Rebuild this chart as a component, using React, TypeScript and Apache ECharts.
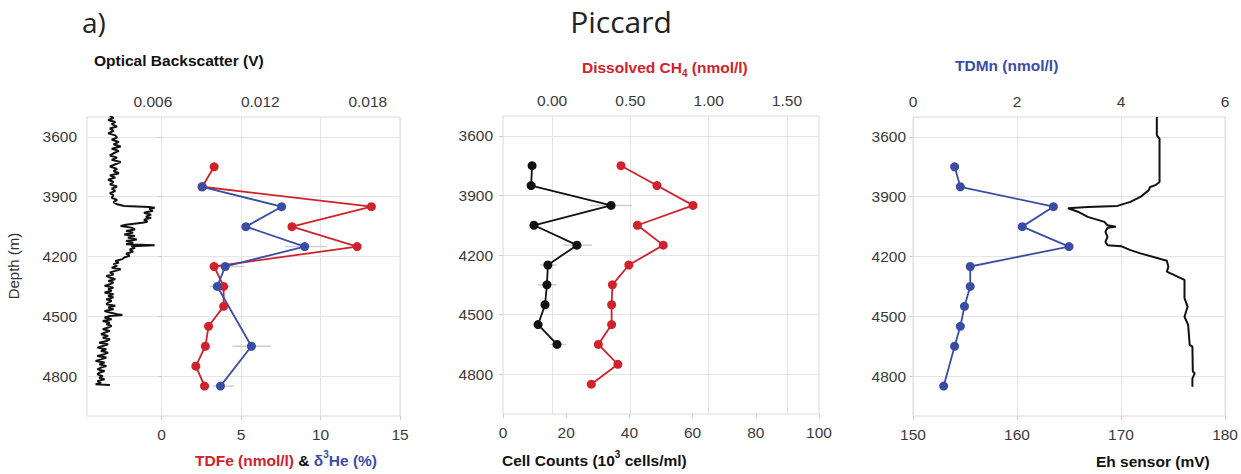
import React, { useEffect, useRef } from "react";
import * as echarts from "echarts";

// ---------- data ----------
const DEPTH_TICKS = [3600, 3900, 4200, 4500, 4800];

// Left panel: TDFe (nmol/l) and δ3He (%) (bottom axis), optical backscatter (V) (top axis)
const TDFE_DEPTH = [3750, 3850, 3950, 4050, 4150, 4250, 4350, 4450, 4550, 4650, 4750, 4850];
const TDFE = [3.3, 2.55, 13.2, 8.2, 12.3, 3.3, 3.9, 3.9, 2.95, 2.75, 2.15, 2.7];
const HE_DEPTH = [3850, 3950, 4050, 4150, 4250, 4350, 4650, 4850];
const HE = [2.55, 7.55, 5.3, 9.0, 4.0, 3.5, 5.65, 3.7];
const HE_ERR_DEPTH = [4150, 4250, 4350, 4650, 4850];
const HE_ERR_LO = [7.75, 3.0, 3.0, 4.45, 3.2];
const HE_ERR_HI = [10.4, 5.2, 4.3, 6.9, 4.55];

const OBS_DEPTH = [
  3495, 3505, 3515, 3525, 3536, 3548, 3558, 3570, 3582, 3592, 3603, 3614, 3625, 3637, 3648, 3659, 3670, 3682,
  3693, 3704, 3715, 3726, 3737, 3748, 3760, 3771, 3782, 3793, 3804, 3815, 3826, 3838, 3849, 3860, 3871, 3882,
  3893, 3905, 3916, 3927, 3938, 3946, 3951, 3955, 3962, 3970, 3980, 3990, 4000, 4005, 4015, 4025, 4031, 4040,
  4047, 4055, 4064, 4072, 4080, 4089, 4097, 4105, 4114, 4122, 4130, 4139, 4143, 4148, 4156, 4165, 4175, 4186,
  4196, 4205, 4213, 4222, 4230, 4238, 4247, 4256, 4264, 4272, 4280, 4290, 4297, 4305, 4314, 4322, 4330, 4339,
  4347, 4356, 4364, 4372, 4380, 4389, 4397, 4405, 4414, 4422, 4431, 4439, 4447, 4456, 4464, 4473, 4481, 4490,
  4493, 4498, 4506, 4515, 4523, 4532, 4540, 4548, 4556, 4565, 4573, 4582, 4590, 4598, 4607, 4615, 4624, 4632,
  4640, 4649, 4657, 4665, 4674, 4682, 4690, 4699, 4707, 4716, 4724, 4732, 4741, 4749, 4757, 4766, 4774, 4783,
  4791, 4800, 4808, 4816, 4825, 4833, 4841, 4845,
];
const OBS = [
  0.0036, 0.0038, 0.0035, 0.0039, 0.0037, 0.004, 0.0036, 0.0038, 0.0035, 0.0039, 0.004, 0.0037, 0.0041, 0.0038,
  0.0042, 0.0037, 0.0041, 0.0038, 0.0036, 0.004, 0.0037, 0.0042, 0.0039, 0.0036, 0.004, 0.0038, 0.0041, 0.0036,
  0.0039, 0.0035, 0.0038, 0.0036, 0.004, 0.0037, 0.0039, 0.0036, 0.0038, 0.0037, 0.004, 0.0038, 0.004, 0.0044,
  0.0058, 0.0061, 0.0058, 0.006, 0.0055, 0.0059, 0.0056, 0.0059, 0.0055, 0.0057, 0.0054, 0.0045, 0.0042, 0.0048,
  0.005, 0.0045, 0.0049, 0.0044, 0.005, 0.0046, 0.0051, 0.0045, 0.0049, 0.0045, 0.0061, 0.0048, 0.005, 0.0047,
  0.0049, 0.0045, 0.0047, 0.0044, 0.0043, 0.0039, 0.0041, 0.0038, 0.004, 0.0037, 0.0042, 0.0039, 0.0036, 0.0038,
  0.0034, 0.0036, 0.0039, 0.0035, 0.0038, 0.0036, 0.0033, 0.0038, 0.0035, 0.0037, 0.0033, 0.0038, 0.0035, 0.0038,
  0.0034, 0.0037, 0.0035, 0.0034, 0.0039, 0.0035, 0.0038, 0.0033, 0.0036, 0.004, 0.0043, 0.0036, 0.0033, 0.0037,
  0.0032, 0.0036, 0.0034, 0.0037, 0.0035, 0.0032, 0.0036, 0.0033, 0.0031, 0.0035, 0.0032, 0.0036, 0.0034, 0.003,
  0.0035, 0.0032, 0.0029, 0.0034, 0.0031, 0.0035, 0.0033, 0.0029, 0.0034, 0.0031, 0.0028, 0.0033, 0.003, 0.0034,
  0.0031, 0.0029, 0.0033, 0.003, 0.0029, 0.0032, 0.003, 0.0033, 0.0029, 0.0031, 0.0028, 0.0036,
];

// Middle panel: cell counts (bottom) and dissolved CH4 (top)
const CELL_DEPTH = [3750, 3850, 3950, 4050, 4150, 4250, 4350, 4450, 4550, 4650];
const CELLS = [9.2, 8.9, 34.2, 9.8, 23.4, 14.2, 13.9, 13.3, 11.1, 17.1];
const CELL_ERR_DEPTH = [3950, 4150, 4250, 4350, 4650];
const CELL_ERR_LO = [27.5, 19, 11.7, 11, 14.9];
const CELL_ERR_HI = [40.8, 28.2, 17, 17, 20];
const CH4_DEPTH = [3750, 3850, 3950, 4050, 4150, 4250, 4350, 4450, 4550, 4650, 4750, 4850];
const CH4 = [0.44, 0.67, 0.9, 0.545, 0.71, 0.49, 0.385, 0.38, 0.38, 0.295, 0.42, 0.25];

// Right panel: TDMn (top) and Eh sensor (bottom)
const MN_DEPTH = [3750, 3850, 3950, 4050, 4150, 4250, 4350, 4450, 4550, 4650, 4850];
const MN = [0.8, 0.91, 2.7, 2.1, 3.0, 1.1, 1.1, 0.99, 0.91, 0.8, 0.59];
const EH_DEPTH = [
  3500, 3592, 3608, 3826, 3842, 3851, 3868, 3901, 3926, 3946, 3951, 3958, 3975, 4001, 4026, 4043, 4051, 4056,
  4076, 4101, 4127, 4143, 4148, 4168, 4184, 4221, 4251, 4276, 4317, 4409, 4451, 4502, 4543, 4643, 4652, 4777,
  4786, 4811, 4853,
];
const EH = [
  173.44, 173.44, 173.7, 173.7, 173.3, 172.8, 172.65, 171.86, 170.9, 169.65, 166.8, 164.9, 165.85, 166.8, 168.4,
  168.7, 169.5, 168.7, 168.5, 168.7, 168.5, 168.7, 170.0, 170.9, 171.86, 174.4, 174.55, 174.4, 176.1, 176.1,
  176.4, 176.1, 176.45, 176.6, 176.86, 176.9, 177.08, 176.86, 176.86,
];

// ---------- styles ----------
const RED = "#d0222c";
const BLUE = "#3a4da6";
const FONT = "Liberation Sans, Arial, sans-serif";
const LABEL_COLOR = "#3a3a3a";
const GRID_COLOR = "#e4e4e4";
const TITLE_SIZE = 15.5;

const pairs = (xs: number[], ys: number[]) => xs.map((x, i) => [x, ys[i]]);
const errTriples = (lo: number[], hi: number[], d: number[]) => d.map((dd, i) => [lo[i], hi[i], dd]);

const errRender = (params: any, api: any) => {
  const p1 = api.coord([api.value(0), api.value(2)]);
  const p2 = api.coord([api.value(1), api.value(2)]);
  return {
    type: "line",
    shape: { x1: p1[0], y1: p1[1], x2: p2[0], y2: p2[1] },
    style: { stroke: "#cfcfcf", lineWidth: 1.5 },
  };
};

const labelStyle = { fontSize: 15.5, color: LABEL_COLOR, fontFamily: FONT };

const yAxis = (gridIndex: number, margin: number) => ({
  type: "value",
  gridIndex,
  inverse: true,
  min: 3500,
  max: 5000,
  axisLine: { show: false },
  axisTick: { show: true, customValues: DEPTH_TICKS, length: 4, lineStyle: { color: "#cccccc" } },
  axisLabel: { ...labelStyle, customValues: DEPTH_TICKS, margin, formatter: (v: number) => String(v) },
  splitLine: { show: true, lineStyle: { color: GRID_COLOR } },
});

const rich = (size: number, color: string, extra: any = {}) => ({
  fontFamily: FONT, fontWeight: "bold", fontSize: size, fill: color, color, ...extra,
});

export default function App() {
  const ref = useRef<HTMLDivElement>(null);
  useEffect(() => {
    if (!ref.current) return;
    const chart = echarts.init(ref.current, undefined, { renderer: "svg" });
    const option: any = {
      animation: false,
      backgroundColor: "#ffffff",
      grid: [
        { left: 87, top: 117, width: 313, height: 299, show: true, borderColor: "#dadada", borderWidth: 1 },
        { left: 503, top: 116, width: 316, height: 298, show: true, borderColor: "#dadada", borderWidth: 1 },
        { left: 913, top: 117, width: 316, height: 299, show: true, borderColor: "#dadada", borderWidth: 1 },
      ],
      xAxis: [
        // 0: left bottom TDFe / He
        {
          type: "value", gridIndex: 0, position: "bottom", min: -4.7, max: 15,
          axisLine: { show: false },
          axisTick: { show: true, customValues: [0, 5, 10, 15], length: 4, lineStyle: { color: "#cccccc" } },
          axisLabel: { ...labelStyle, customValues: [0, 5, 10, 15], margin: 10 },
          splitLine: { show: true, lineStyle: { color: GRID_COLOR } },
        },
        // 1: left top optical backscatter
        {
          type: "value", gridIndex: 0, position: "top", min: 0.00232, max: 0.0198,
          axisLine: { show: false },
          axisTick: { show: false, customValues: [0.006, 0.012, 0.018] },
          axisLabel: { ...labelStyle, customValues: [0.006, 0.012, 0.018], margin: 8, formatter: (v: number) => v.toFixed(3) },
          splitLine: { show: false },
        },
        // 2: middle bottom cell counts
        {
          type: "value", gridIndex: 1, position: "bottom", min: 0, max: 100, interval: 20,
          axisLine: { show: false },
          axisTick: { show: true, length: 4, lineStyle: { color: "#cccccc" } },
          axisLabel: { ...labelStyle, margin: 10 },
          splitLine: { show: false },
        },
        // 3: middle top CH4
        {
          type: "value", gridIndex: 1, position: "top", min: -0.314, max: 1.705,
          axisLine: { show: false },
          axisTick: { show: false, customValues: [0, 0.5, 1.0, 1.5] },
          axisLabel: { ...labelStyle, customValues: [0, 0.5, 1.0, 1.5], margin: 8, formatter: (v: number) => v.toFixed(2) },
          splitLine: { show: true, lineStyle: { color: GRID_COLOR } },
        },
        // 4: right top TDMn
        {
          type: "value", gridIndex: 2, position: "top", min: 0, max: 6, interval: 2,
          axisLine: { show: false },
          axisTick: { show: false },
          axisLabel: { ...labelStyle, margin: 8 },
          splitLine: { show: true, lineStyle: { color: GRID_COLOR } },
        },
        // 5: right bottom Eh
        {
          type: "value", gridIndex: 2, position: "bottom", min: 150, max: 180, interval: 10,
          axisLine: { show: false },
          axisTick: { show: true, length: 4, lineStyle: { color: "#cccccc" } },
          axisLabel: { ...labelStyle, margin: 10 },
          splitLine: { show: false },
        },
      ],
      yAxis: [yAxis(0, 10), yAxis(1, 10), yAxis(2, 7)],
      series: [
        {
          type: "custom", name: "He err", xAxisIndex: 0, yAxisIndex: 0, z: 1,
          data: errTriples(HE_ERR_LO, HE_ERR_HI, HE_ERR_DEPTH), renderItem: errRender,
          encode: { x: [0, 1], y: 2 },
        },
        {
          type: "line", name: "Optical Backscatter", xAxisIndex: 1, yAxisIndex: 0,
          data: pairs(OBS, OBS_DEPTH), showSymbol: false, symbol: "none",
          lineStyle: { color: "#111111", width: 2 },
        },
        {
          type: "line", name: "TDFe", xAxisIndex: 0, yAxisIndex: 0,
          data: pairs(TDFE, TDFE_DEPTH), symbol: "circle", symbolSize: 9,
          lineStyle: { color: RED, width: 1.8 }, itemStyle: { color: RED },
        },
        {
          type: "line", name: "δ3He", xAxisIndex: 0, yAxisIndex: 0,
          data: pairs(HE, HE_DEPTH), symbol: "circle", symbolSize: 9,
          lineStyle: { color: BLUE, width: 1.8 }, itemStyle: { color: BLUE },
        },
        {
          type: "custom", name: "Cell err", xAxisIndex: 2, yAxisIndex: 1, z: 1,
          data: errTriples(CELL_ERR_LO, CELL_ERR_HI, CELL_ERR_DEPTH), renderItem: errRender,
          encode: { x: [0, 1], y: 2 },
        },
        {
          type: "line", name: "Cell Counts", xAxisIndex: 2, yAxisIndex: 1,
          data: pairs(CELLS, CELL_DEPTH), symbol: "circle", symbolSize: 9,
          lineStyle: { color: "#111111", width: 1.8 }, itemStyle: { color: "#111111" },
        },
        {
          type: "line", name: "Dissolved CH4", xAxisIndex: 3, yAxisIndex: 1,
          data: pairs(CH4, CH4_DEPTH), symbol: "circle", symbolSize: 9,
          lineStyle: { color: RED, width: 1.8 }, itemStyle: { color: RED },
        },
        {
          type: "line", name: "Eh sensor", xAxisIndex: 5, yAxisIndex: 2,
          data: pairs(EH, EH_DEPTH), showSymbol: false, symbol: "none",
          lineStyle: { color: "#111111", width: 2 },
        },
        {
          type: "line", name: "TDMn", xAxisIndex: 4, yAxisIndex: 2,
          data: pairs(MN, MN_DEPTH), symbol: "circle", symbolSize: 9,
          lineStyle: { color: BLUE, width: 1.8 }, itemStyle: { color: BLUE },
        },
      ],
      graphic: [
        { type: "text", x: 82, y: 22, style: { text: "a)", font: "28px 'Open Sans', sans-serif", fill: "#222", textVerticalAlign: "middle" } },
        { type: "text", x: 621, y: 21, style: { text: "Piccard", font: "30px 'Open Sans', sans-serif", fill: "#222", textAlign: "center", textVerticalAlign: "middle" } },
        {
          type: "text", x: 94, y: 60,
          style: { text: "Optical Backscatter (V)", font: `bold ${TITLE_SIZE}px ${FONT}`, fill: "#111", textVerticalAlign: "middle" },
        },
        {
          type: "text", x: 582, y: 67,
          style: {
            text: "{a|Dissolved CH}{s|4}{a| (nmol/l)}",
            textVerticalAlign: "middle",
            rich: {
              a: rich(TITLE_SIZE, RED, { lineHeight: 22 }),
              s: rich(10, RED, { verticalAlign: "bottom", lineHeight: 12 }),
            },
          },
        },
        {
          type: "text", x: 955, y: 65,
          style: { text: "TDMn (nmol/l)", font: `bold ${TITLE_SIZE}px ${FONT}`, fill: BLUE, textVerticalAlign: "middle" },
        },
        {
          type: "text", x: 195, y: 460,
          style: {
            text: "{r|TDFe (nmol/l)}{k| & }{b|δ}{u|3}{b|He (%)}",
            textVerticalAlign: "middle",
            rich: {
              r: rich(TITLE_SIZE, RED, { lineHeight: 22 }),
              k: rich(TITLE_SIZE, "#111", { lineHeight: 22 }),
              b: rich(TITLE_SIZE, BLUE, { lineHeight: 22 }),
              u: rich(10, BLUE, { verticalAlign: "top", lineHeight: 12 }),
            },
          },
        },
        {
          type: "text", x: 502, y: 460,
          style: {
            text: "{a|Cell Counts (10}{u|3}{a| cells/ml)}",
            textVerticalAlign: "middle",
            rich: {
              a: rich(TITLE_SIZE, "#111", { lineHeight: 22 }),
              u: rich(10, "#111", { verticalAlign: "top", lineHeight: 12 }),
            },
          },
        },
        {
          type: "text", x: 1096, y: 461,
          style: { text: "Eh sensor (mV)", font: `bold ${TITLE_SIZE}px ${FONT}`, fill: "#111", textVerticalAlign: "middle" },
        },
        {
          type: "text", x: 13, y: 266, rotation: Math.PI / 2,
          style: { text: "Depth (m)", font: `15px ${FONT}`, fill: "#333", textAlign: "center", textVerticalAlign: "middle" },
        },
      ],
    };
    chart.setOption(option);
    return () => chart.dispose();
  }, []);
  return (
    <div
      ref={ref}
      style={{ position: "absolute", left: 0, top: 0, width: 1241, height: 474, background: "#fff" }}
    />
  );
}
